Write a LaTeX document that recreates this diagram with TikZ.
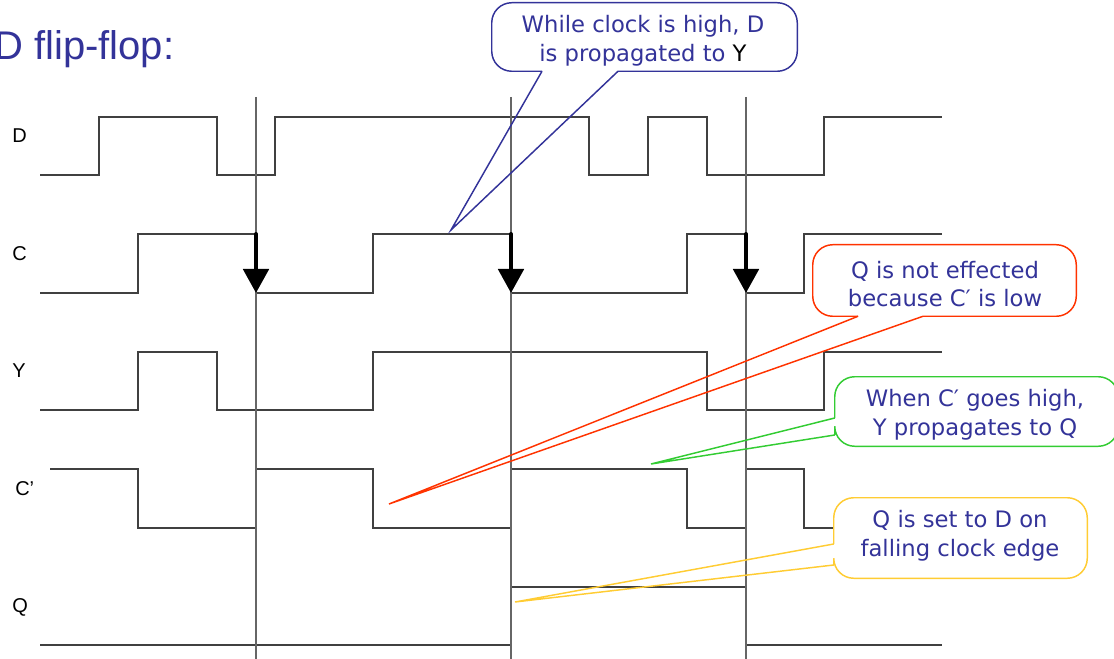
\documentclass[tikz,border=0pt]{standalone}
\usepackage{fontspec}
\setmainfont{Liberation Sans}
\newfontfamily\callfont{DejaVu Sans}
\usetikzlibrary{arrows.meta}
\definecolor{slideblue}{HTML}{333399}
\definecolor{callred}{HTML}{FF3300}
\definecolor{callgreen}{HTML}{33CC33}
\definecolor{callyellow}{HTML}{FFCC33}

\begin{document}
\begin{tikzpicture}[x=0.75pt,y=-0.75pt]
        %
        % `wave' is used for the signal traces, `marker' for the clock edge lines.
        % `falling' marks the falling clock edges (thick arrows).
        % `balloon' and `balloonbox' are used for the callouts.
        \tikzstyle{wave} = [draw=black!75,line width=0.8pt]
        \tikzstyle{marker} = [draw=black!60,line width=0.8pt]
        \tikzstyle{falling} = [draw=black,line width=3pt,line cap=round,-{Triangle[width=19pt,length=18pt]}]
        \tikzstyle{signal} = [font=\fontsize{15}{17}\selectfont,inner sep=0pt,anchor=base west]
        \tikzstyle{note} = [font=\callfont\fontsize{17}{21.5}\selectfont,text=slideblue,align=center,inner sep=0pt]
        \tikzstyle{balloon} = [line width=1.1pt,rounded corners=15pt]
        \tikzstyle{balloonbox} = [fill=white,rounded corners=15pt,inner sep=0pt]
        %
        \useasboundingbox (0,0) rectangle (1114,659);
        %
        % Title
        \node[font=\fontsize{30}{36}\selectfont,text=slideblue,inner sep=0pt,anchor=base west] (title) at (-6,60) {D flip-flop:};
        %
        % Signal names
        \node[signal] (lblD) at (12,143) {D};
        \node[signal] (lblC) at (12,261) {C};
        \node[signal] (lblY) at (12,378) {Y};
        \node[signal] (lblCn) at (15,495) {C’};
        \node[signal] (lblQ) at (12,612) {Q};
        %
        % Traces
        \draw[wave] (40,175) -| (99,117) -| (217,175) -| (275,117) -| (589,175) -| (648,117) -| (707,175) -| (824,117) -- (942,117);
        \draw[wave] (40,293) -| (138,234) -| (256,293) -| (373,234) -| (511,293) -| (687,234) -| (746,293) -| (804,234) -- (942,234);
        \draw[wave] (40,410) -| (138,352) -| (217,410) -| (373,352) -| (707,410) -| (824,352) -- (942,352);
        \draw[wave] (50,469) -| (138,528) -| (256,469) -| (373,528) -| (511,469) -| (687,528) -| (746,469) -| (804,528) -- (942,528);
        \draw[wave] (40,645) -| (511,587) -| (746,645) -- (942,645);
        %
        % Falling clock edges
        \foreach \t in {256,511,746} {
            \draw[marker] (\t,97) -- (\t,659);
            \draw[falling] (\t,234) -- (\t,293);
        }
        %
        % Callout: D to Y
        \node[balloonbox,minimum width=228.75pt,minimum height=51pt] (hold) at (644.5,37) {};
        \draw[balloon,slideblue] (618,0 |- hold.south) -- (hold.south east) -- (hold.north east) -- (hold.north west) -- (hold.south west) -- (542,0 |- hold.south);
        \draw[balloon,sharp corners,slideblue] (542,0 |- hold.south) -- (451,230) -- (618,0 |- hold.south);
        \node[note] (holdtext) at (643,41) {While clock is high, D\\is propagated to \textcolor{black}{Y}};
        %
        % Callout: Q not affected
        \node[balloonbox,minimum width=197.25pt,minimum height=53.25pt] (keep) at (944.5,280.5) {};
        \draw[balloon,callred] (923,0 |- keep.south) -- (keep.south east) -- (keep.north east) -- (keep.north west) -- (keep.south west) -- (858,0 |- keep.south);
        \draw[balloon,sharp corners,callred] (858,0 |- keep.south) -- (389,504) -- (923,0 |- keep.south);
        \node[note] (keeptext) at (945,284) {Q is not effected\\because C′ is low};
        %
        % Callout: Y to Q
        \node[balloonbox,minimum width=212.25pt,minimum height=51.75pt] (pass) at (976.5,411.5) {};
        \draw[balloon,callgreen] (pass.west |- 0,418) -- (pass.north west) -- (pass.north east) -- (pass.south east) -- (pass.south west) -- (pass.west |- 0,435);
        \draw[balloon,sharp corners,callgreen] (pass.west |- 0,435) -- (651,464) -- (pass.west |- 0,418);
        \node[note] (passtext) at (975,415) {When C′ goes high,\\Y propagates to Q};
        %
        % Callout: falling edge
        \node[balloonbox,minimum width=189.75pt,minimum height=60pt] (fall) at (960.5,538) {};
        \draw[balloon,callyellow] (fall.west |- 0,544) -- (fall.north west) -- (fall.north east) -- (fall.south east) -- (fall.south west) -- (fall.west |- 0,565);
        \draw[balloon,sharp corners,callyellow] (fall.west |- 0,565) -- (515,602) -- (fall.west |- 0,544);
        \node[note] (falltext) at (960,536) {Q is set to D on\\falling clock edge};
        %
\end{tikzpicture}
\end{document}
